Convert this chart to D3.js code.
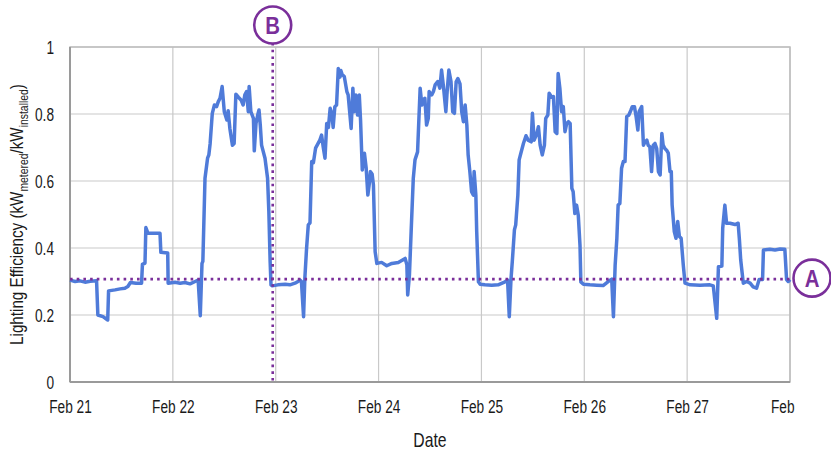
<!DOCTYPE html>
<html><head><meta charset="utf-8">
<script src="https://cdn.jsdelivr.net/npm/d3@7"></script>
<style>
html,body{margin:0;padding:0;background:#fff;}
text{font-family:"Liberation Sans","Arial",sans-serif;fill:#1a1a1a;}
</style></head>
<body><svg id="c" width="831" height="453"></svg>
<script>
// hours since Feb 21 00:00
const hours = [0.0,1.2,2.3,3.5,4.7,6.2,6.5,7.7,8.8,9.0,10.5,11.7,12.8,13.5,14.1,15.4,16.7,16.9,17.5,17.7,18.2,19.8,21.0,21.2,22.8,22.9,24.5,25.7,26.8,28.0,29.2,29.9,30.4,30.8,31.0,31.5,32.1,32.4,32.7,33.2,33.7,34.2,34.6,35.0,35.5,36.0,36.6,36.9,37.3,37.9,38.3,38.7,39.3,39.9,40.4,40.8,41.2,41.6,41.8,42.2,42.8,43.0,43.4,43.8,44.1,44.4,44.7,45.5,46.1,46.4,46.7,46.9,47.2,48.5,50.2,51.3,52.5,53.7,54.0,54.5,54.8,55.2,55.6,56.0,56.4,56.8,57.3,57.8,58.3,58.7,59.1,59.5,59.9,60.3,60.7,61.1,61.4,61.8,62.2,62.6,63.0,63.2,63.5,64.0,64.6,64.9,65.6,66.0,66.3,66.7,67.1,67.5,67.8,68.2,68.7,69.1,69.5,69.8,70.1,70.5,70.8,71.2,71.6,72.7,73.9,75.1,76.6,78.2,78.6,78.8,79.2,79.6,80.1,80.5,81.1,81.7,82.1,82.4,82.8,83.2,83.6,83.8,84.4,84.8,85.2,85.8,86.3,86.7,87.1,87.7,88.0,88.4,88.9,89.3,89.7,90.1,90.5,91.0,91.4,91.8,92.2,92.6,92.9,93.3,93.7,94.1,94.3,94.7,94.9,95.3,95.7,96.8,98.4,99.9,101.5,102.1,102.5,102.9,103.2,103.7,104.0,104.5,104.8,105.2,105.8,106.4,106.9,107.6,107.9,108.3,108.9,109.3,109.7,110.2,110.7,111.0,111.5,111.8,112.4,112.8,113.2,113.6,113.9,114.3,114.7,115.1,115.5,115.9,116.3,116.7,117.1,117.4,117.8,118.2,118.6,119.0,119.2,119.8,121.3,122.9,124.4,126.0,126.4,126.8,127.2,127.6,127.9,128.3,128.7,129.1,129.5,129.9,130.4,130.9,131.2,131.7,132.1,132.5,132.8,133.4,133.8,134.2,134.6,134.9,135.3,135.7,136.1,136.5,136.9,137.3,137.7,138.1,138.4,138.8,139.2,139.6,140.0,140.3,140.5,141.0,141.4,141.8,142.2,142.6,143.1,143.5,144.7,147.0,149.3,150.1,150.9,151.3,152.1,152.3,152.8,153.2,154.0,155.2,155.9,156.2,156.5,157.1,157.9,158.7,159.4,160.2,160.8,161.6,161.8,163.3,164.5,165.7,166.8,167.2,167.6,168.0];
const efficiency = [0.304,0.300,0.302,0.298,0.301,0.302,0.200,0.195,0.185,0.272,0.275,0.278,0.280,0.285,0.297,0.295,0.295,0.351,0.355,0.461,0.444,0.444,0.444,0.387,0.385,0.295,0.298,0.295,0.297,0.293,0.300,0.304,0.198,0.354,0.360,0.608,0.668,0.678,0.712,0.802,0.827,0.822,0.837,0.847,0.882,0.807,0.782,0.810,0.757,0.707,0.712,0.859,0.850,0.842,0.827,0.857,0.867,0.807,0.882,0.807,0.787,0.690,0.772,0.797,0.812,0.767,0.707,0.668,0.608,0.508,0.359,0.290,0.287,0.290,0.292,0.290,0.295,0.304,0.300,0.195,0.310,0.399,0.469,0.475,0.658,0.655,0.698,0.710,0.722,0.737,0.700,0.668,0.772,0.760,0.817,0.800,0.760,0.822,0.827,0.936,0.910,0.930,0.918,0.912,0.867,0.857,0.757,0.877,0.807,0.857,0.797,0.857,0.780,0.633,0.683,0.640,0.558,0.588,0.628,0.620,0.588,0.389,0.354,0.357,0.347,0.354,0.357,0.369,0.350,0.260,0.319,0.449,0.608,0.663,0.687,0.877,0.827,0.842,0.847,0.767,0.787,0.867,0.857,0.867,0.887,0.897,0.877,0.931,0.887,0.807,0.867,0.931,0.897,0.807,0.802,0.896,0.906,0.890,0.807,0.777,0.827,0.767,0.678,0.628,0.568,0.558,0.628,0.558,0.449,0.299,0.292,0.290,0.289,0.290,0.299,0.304,0.195,0.307,0.359,0.454,0.469,0.558,0.663,0.683,0.712,0.735,0.722,0.717,0.802,0.722,0.740,0.762,0.707,0.678,0.707,0.787,0.797,0.862,0.850,0.852,0.747,0.742,0.921,0.877,0.807,0.822,0.747,0.772,0.777,0.772,0.578,0.568,0.503,0.528,0.498,0.408,0.299,0.292,0.290,0.289,0.288,0.304,0.307,0.195,0.349,0.429,0.528,0.533,0.638,0.658,0.658,0.792,0.797,0.812,0.822,0.822,0.792,0.752,0.807,0.822,0.707,0.717,0.722,0.707,0.702,0.628,0.707,0.712,0.697,0.628,0.618,0.742,0.707,0.697,0.692,0.683,0.628,0.628,0.528,0.449,0.429,0.479,0.434,0.429,0.349,0.295,0.290,0.289,0.290,0.287,0.190,0.344,0.346,0.459,0.528,0.474,0.474,0.470,0.474,0.424,0.364,0.295,0.300,0.295,0.284,0.280,0.306,0.306,0.394,0.396,0.394,0.397,0.396,0.306,0.300,0.306];
const dayTicks = [0,24,48,72,96,120,144,168];
const dayLabels = ["Feb 21","Feb 22","Feb 23","Feb 24","Feb 25","Feb 26","Feb 27","Feb"];
const yTicks = [0,0.2,0.4,0.6,0.8,1];
const yLabels = ["0","0.2","0.4","0.6","0.8","1"];
const refA = 0.307;      // horizontal reference level "A"
const refB = 47.3;       // vertical reference time "B" (hours)

const svg = d3.select("#c");
const m = {l:70, r:41, t:47, b:71};
const W = 831, H = 453;
const x = d3.scaleLinear().domain([0,168]).range([m.l, W-m.r]);
const y = d3.scaleLinear().domain([0,1]).range([H-m.b, m.t]);
const purple = "#7a2f9a";
const SX = 0.72; // condensed look

// grid
const g = svg.append("g");
g.selectAll(".hg").data(yTicks).enter().append("line")
  .attr("x1",x(0)).attr("x2",x(168)).attr("y1",d=>y(d)).attr("y2",d=>y(d))
  .attr("stroke","#c9c9c9").attr("stroke-width",1.2);
g.selectAll(".vg").data(dayTicks).enter().append("line")
  .attr("x1",d=>x(d)).attr("x2",d=>x(d)).attr("y1",y(0)).attr("y2",y(1))
  .attr("stroke","#c9c9c9").attr("stroke-width",1.2);
// frame
g.append("rect").attr("x",x(0)).attr("y",y(1)).attr("width",x(168)-x(0)).attr("height",y(0)-y(1))
  .attr("fill","none").attr("stroke","#bdbdbd").attr("stroke-width",1.5);
g.append("line").attr("x1",x(0)).attr("x2",x(0)).attr("y1",y(1)).attr("y2",y(0)).attr("stroke","#9a9a9a").attr("stroke-width",2);
g.append("line").attr("x1",x(0)).attr("x2",x(168)).attr("y1",y(0)).attr("y2",y(0)).attr("stroke","#9a9a9a").attr("stroke-width",2);

// axes labels via d3 axes
const xAxis = d3.axisBottom(x).tickValues(dayTicks).tickFormat((d,i)=>dayLabels[i]).tickSize(0).tickPadding(18);
const xa = svg.append("g").attr("transform",`translate(0,${y(0)})`).call(xAxis);
xa.select(".domain").remove();
xa.selectAll("text").attr("font-size",19).attr("fill","#1a1a1a")
  .style("font-family",'"Liberation Sans",Arial,sans-serif').attr("transform",`scale(${SX},1)`);
// last label is a truncated "Feb 28": left-aligned where the full label would start
xa.selectAll(".tick").filter(d=>d===168).select("text")
  .attr("text-anchor","start").attr("x",-19.5/SX);
const yAxis = d3.axisLeft(y).tickValues(yTicks).tickFormat((d,i)=>yLabels[i]).tickSize(0).tickPadding(16);
const ya = svg.append("g").attr("transform",`translate(${x(0)},0)`).call(yAxis);
ya.select(".domain").remove();
ya.selectAll("text").attr("font-size",19).attr("fill","#1a1a1a").attr("x",-16/SX)
  .style("font-family",'"Liberation Sans",Arial,sans-serif').attr("transform",`scale(${SX},1)`);

// data line
const pts = hours.map((h,i)=>[h,efficiency[i]]);
svg.append("path").datum(pts)
  .attr("d", d3.line().x(d=>x(d[0])).y(d=>y(d[1])))
  .attr("fill","none").attr("stroke","#4f7bd9").attr("stroke-width",3.5).attr("stroke-linejoin","round");

// reference lines
svg.append("line").attr("x1",x(0)).attr("x2",x(168)+3).attr("y1",y(refA)).attr("y2",y(refA))
  .attr("stroke",purple).attr("stroke-width",2.6).attr("stroke-dasharray","2.6,4.1");
svg.append("line").attr("x1",x(refB)).attr("x2",x(refB)).attr("y1",43).attr("y2",y(0)+1)
  .attr("stroke",purple).attr("stroke-width",2.6).attr("stroke-dasharray","2.6,4.1");

// markers
function marker(cx, cy, label){
  svg.append("circle").attr("cx",cx).attr("cy",cy).attr("r",18.5)
    .attr("fill","#fff").attr("stroke",purple).attr("stroke-width",2.6);
  svg.append("text").attr("transform",`translate(${cx},${cy}) scale(0.85,1)`)
    .attr("text-anchor","middle").attr("dy","0.36em")
    .attr("font-size",24).attr("font-weight","bold").style("fill",purple).text(label);
}
marker(x(168)+22, y(refA)-1, "A");
marker(x(refB), 25, "B");

// axis titles
svg.append("text").attr("transform",`translate(${(x(0)+x(168))/2},447) scale(0.75,1)`)
  .attr("text-anchor","middle").attr("font-size",21).text("Date");
const yt = svg.append("text").attr("transform",`translate(23,${(y(0)+y(1))/2}) rotate(-90) scale(0.8,1)`)
  .attr("text-anchor","middle").attr("font-size",19);
yt.append("tspan").text("Lighting Efficiency (kW");
yt.append("tspan").attr("font-size",13).attr("dy",5).text("metered");
yt.append("tspan").attr("dy",-5).text("/kW");
yt.append("tspan").attr("font-size",13).attr("dy",5).text("installed");
yt.append("tspan").attr("dy",-5).text(")");
</script></body></html>
